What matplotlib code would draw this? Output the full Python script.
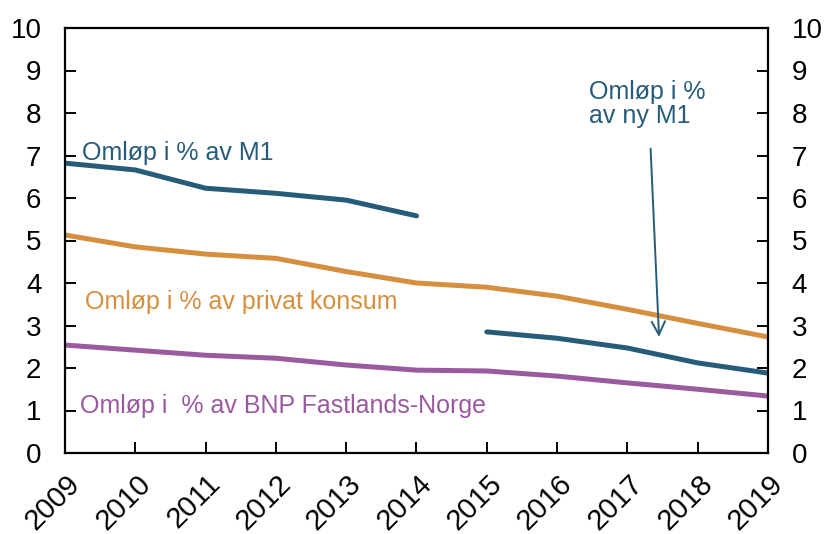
import matplotlib
matplotlib.use("Agg")
import matplotlib.pyplot as plt
import matplotlib.transforms as mtransforms

plt.rcParams['font.family'] = ['Liberation Sans', 'DejaVu Sans']

years = [2009, 2010, 2011, 2012, 2013, 2014, 2015, 2016, 2017, 2018, 2019]
m1_years = [2009, 2010, 2011, 2012, 2013, 2014]
m1_old = [6.82, 6.66, 6.23, 6.11, 5.95, 5.58]
m1_new_years = [2015, 2016, 2017, 2018, 2019]
m1_new = [2.85, 2.70, 2.47, 2.12, 1.88]
konsum = [5.13, 4.85, 4.68, 4.58, 4.27, 4.00, 3.90, 3.69, 3.38, 3.05, 2.73]
bnp = [2.54, 2.42, 2.30, 2.23, 2.07, 1.95, 1.93, 1.81, 1.65, 1.50, 1.34]
yticks = list(range(0, 11))

c_m1 = '#265C7A'
c_or = '#D68F3E'
c_pu = '#9A5AA0'

fig = plt.figure(figsize=(8.26, 5.34), dpi=100)
ax = fig.add_axes([65/826, 1-453/534, (768-65)/826, (453-28)/534])

lw = 3.6
ax.plot(m1_years, m1_old, color=c_m1, lw=lw, solid_capstyle='round')
ax.plot(m1_new_years, m1_new, color=c_m1, lw=lw, solid_capstyle='round')
ax.plot(years, konsum, color=c_or, lw=lw, solid_capstyle='round')
ax.plot(years, bnp, color=c_pu, lw=lw, solid_capstyle='round')

ax.set_xlim(2009, 2019)
ax.set_ylim(0, 10)
ax.set_xticks(years)
ax.set_xticklabels([str(y) for y in years], rotation=45, ha='right', va='top',
                   rotation_mode='anchor', fontsize=21)
ax.set_yticks(yticks)
ax.set_yticklabels([str(v) for v in yticks], fontsize=20)
ax.tick_params(axis='both', direction='in', length=8, width=1.4, colors='black')
ax.tick_params(axis='y', which='both', right=True, labelright=True, pad=17)
ax.tick_params(axis='x', pad=12)
for s in ax.spines.values():
    s.set_linewidth(1.6)

offset = mtransforms.ScaledTranslation(1/100, 0, fig.dpi_scale_trans)
for lab in ax.get_xticklabels():
    lab.set_transform(lab.get_transform() + offset)

ax.text(82/826, 1-153/534, 'Omløp i % av M1', transform=fig.transFigure,
        color=c_m1, fontsize=18, va='center', ha='left')
ax.text(85/826, 1-302/534, 'Omløp i % av privat konsum', transform=fig.transFigure,
        color=c_or, fontsize=18, va='center', ha='left')
ax.text(80/826, 1-406/534, 'Omløp i  % av BNP Fastlands-Norge', transform=fig.transFigure,
        color=c_pu, fontsize=18, va='center', ha='left')
ax.text(589/826, 1-104/534, 'Omløp i %\nav ny M1', transform=fig.transFigure,
        color=c_m1, fontsize=18, va='center', ha='left', linespacing=1.0)

ax.annotate('', xy=(2017.45, 2.73), xytext=(2017.33, 7.16),
            arrowprops=dict(arrowstyle='->', color=c_m1, lw=1.4,
                            mutation_scale=24, shrinkA=0, shrinkB=0))

fig.savefig('out.png', dpi=100)
